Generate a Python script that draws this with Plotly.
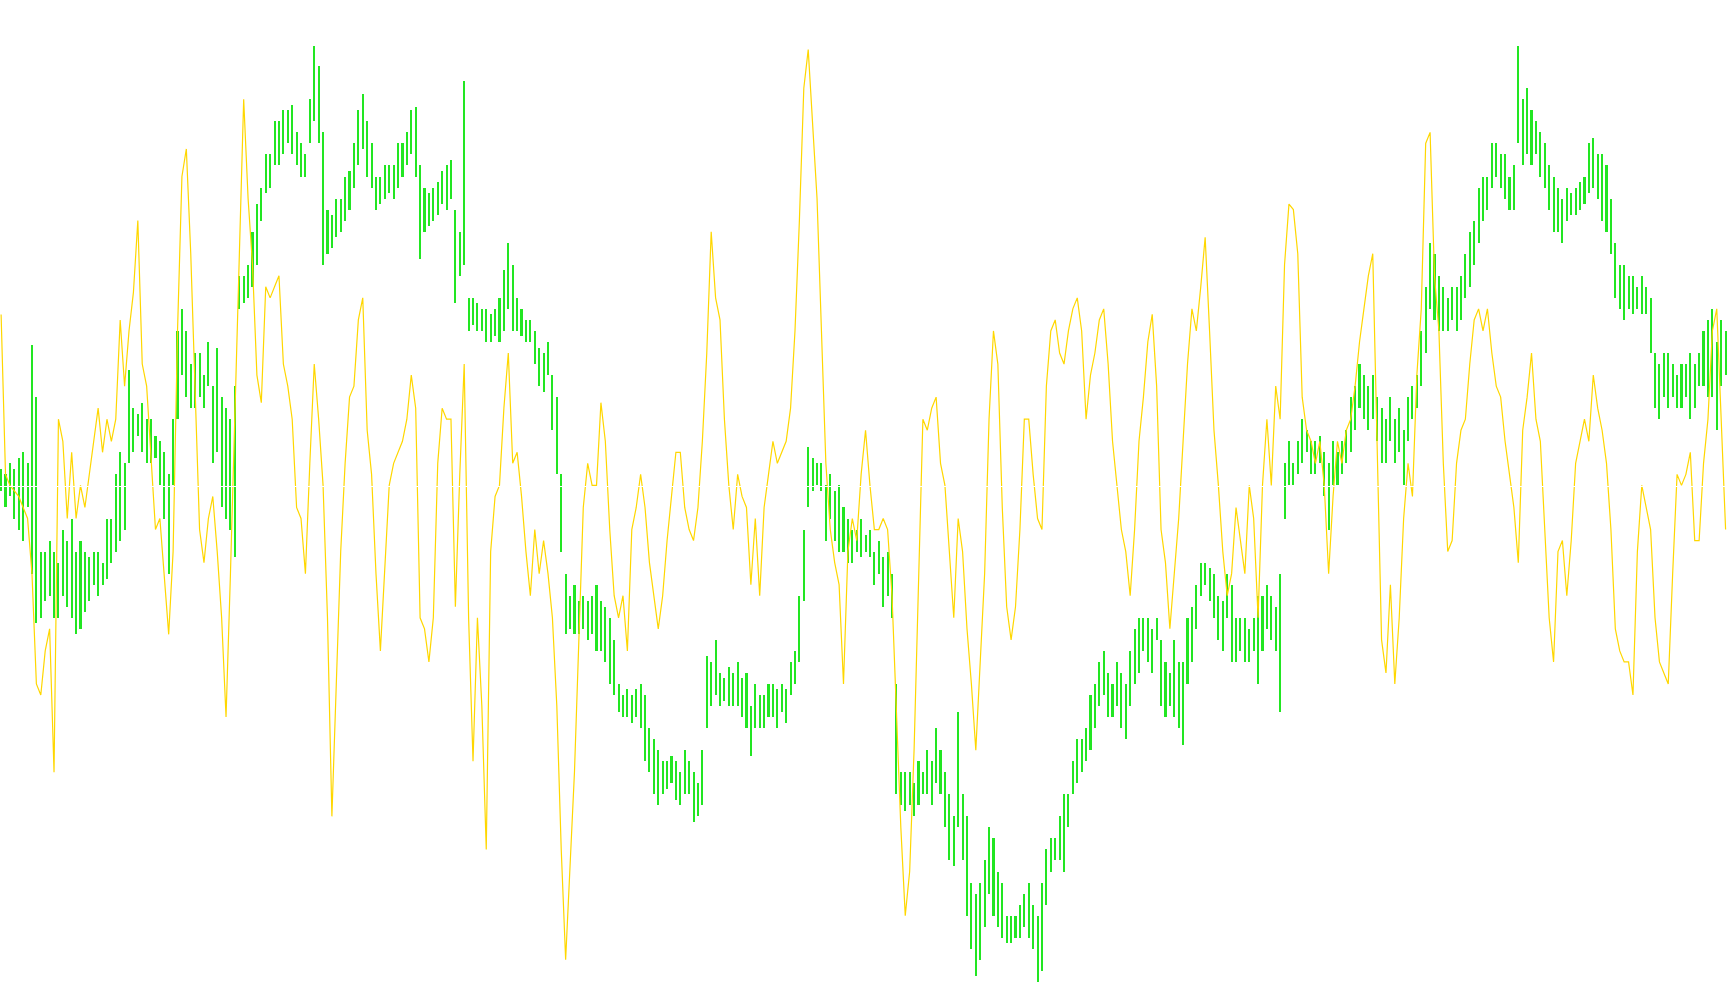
import numpy as np
import plotly.graph_objects as go

# bar index positions (one bar every 4 chart units)
step = 4

# green range bars: upper and lower edge readings (chart units, top = small)
green_top = [
    425,430,420,425,415,410,420,313,360,500,
    500,490,500,510,480,490,470,500,490,500,
    505,500,500,510,470,470,430,410,420,335,
    370,375,365,380,380,395,400,410,430,380,
    300,280,300,330,320,320,340,310,350,315,
    360,370,380,350,250,250,240,210,185,170,
    140,140,110,110,100,100,95,120,130,140,
    90,42,60,120,190,195,180,180,160,155,
    130,100,85,110,130,160,160,150,150,150,
    130,130,120,100,97,150,170,175,170,165,
    155,150,145,190,210,73,270,270,275,280,
    280,285,280,270,245,220,240,270,280,290,
    290,300,315,320,310,340,360,430,520,540,
    530,545,540,545,540,530,545,550,560,580,
    620,630,625,630,625,620,630,660,670,680,
    690,690,685,690,700,680,690,700,710,680,
    595,600,580,610,615,605,610,600,615,610,
    640,620,630,630,620,620,625,620,625,600,
    590,540,480,405,415,420,420,440,430,445,
    440,460,470,480,480,470,485,480,500,490,
    505,500,520,620,700,700,700,710,690,700,
    680,690,660,680,700,720,740,645,720,740,
    800,810,800,780,750,760,790,800,830,830,
    830,820,810,800,820,830,800,770,760,760,
    740,720,720,690,670,670,660,630,620,600,
    590,610,620,600,610,620,590,570,560,560,
    560,570,560,580,600,610,580,600,600,560,
    550,530,510,510,515,520,540,545,520,530,
    560,560,560,570,560,540,540,530,540,550,
    520,420,400,420,400,380,390,400,400,395,
    410,420,400,410,400,390,360,350,330,340,
    350,340,360,370,380,360,380,370,390,360,
    350,340,300,260,220,230,250,260,270,260,
    260,250,230,210,200,170,160,160,130,130,
    140,140,160,150,42,90,80,100,110,120,
    130,150,160,170,180,170,175,170,165,160,
    130,125,140,140,150,180,220,240,240,250,
    250,260,250,260,270,320,330,320,320,330,
    340,330,330,320,330,320,300,290,280,310,
    290,300,
]
green_bottom = [
    445,460,450,470,480,490,460,520,565,560,
    545,540,560,560,540,550,560,575,570,555,
    545,530,540,530,525,510,500,490,480,420,
    410,395,410,420,420,415,440,470,520,440,
    380,340,360,370,370,360,370,350,420,410,
    460,470,480,505,280,275,270,260,240,200,
    175,170,150,150,140,130,140,150,160,160,
    130,110,130,240,230,225,215,210,200,190,
    170,150,135,160,170,190,185,180,175,180,
    170,160,150,140,160,235,210,205,200,195,
    185,190,180,275,250,240,300,295,300,300,
    310,310,305,310,300,280,300,300,305,310,
    310,330,350,355,340,390,430,500,575,570,
    575,575,570,580,575,590,590,600,620,630,
    645,650,650,655,650,660,690,700,720,730,
    720,715,710,725,730,720,720,745,740,730,
    660,640,630,640,635,640,640,640,650,660,
    685,660,660,660,650,650,660,645,655,630,
    620,600,545,460,445,440,445,490,470,490,
    500,500,510,510,500,505,500,505,530,520,
    550,540,560,720,730,735,730,740,730,720,
    720,730,710,720,750,780,785,750,780,830,
    860,885,870,840,810,830,840,850,855,855,
    850,850,840,850,860,890,880,820,790,780,
    780,790,750,720,710,700,690,680,660,640,
    630,650,650,640,660,670,640,620,610,590,
    600,610,580,640,650,640,650,660,675,620,
    600,570,540,530,545,560,580,590,560,600,
    600,590,600,600,590,620,590,570,580,590,
    645,470,440,440,430,420,410,430,430,420,
    450,480,440,440,430,420,410,390,370,380,
    390,380,400,420,420,400,420,410,440,400,
    380,370,350,320,280,290,300,300,300,290,
    300,290,270,260,240,220,200,190,170,160,
    170,180,190,190,130,150,140,150,140,160,
    170,190,210,210,220,200,195,195,190,185,
    175,170,180,200,210,230,270,280,290,280,
    285,280,285,285,320,370,380,360,370,360,
    370,370,360,380,370,350,350,360,360,390,
    350,340,
]

# yellow line readings (chart units, top = small)
yellow = [
    285,430,440,445,450,460,470,520,620,630,
    590,570,700,380,400,470,410,470,440,460,
    430,400,370,410,380,400,380,290,350,300,
    265,200,330,350,420,480,470,520,575,500,
    300,160,135,230,350,480,510,470,450,500,
    560,650,520,380,250,90,180,240,340,365,
    260,270,260,250,330,350,380,460,470,520,
    420,330,380,440,560,740,620,500,420,360,
    350,290,270,390,430,520,590,520,440,420,
    410,400,380,340,370,560,570,600,560,420,
    370,380,380,550,430,330,560,690,560,640,
    770,500,450,440,370,320,420,410,450,500,
    540,480,520,490,520,560,640,770,870,780,
    700,580,460,420,440,440,365,400,480,540,
    560,540,590,480,460,430,460,510,540,570,
    540,490,450,410,410,460,480,490,460,400,
    320,210,270,290,380,440,480,430,450,460,
    530,470,540,460,430,400,420,410,400,370,
    300,200,80,45,110,180,300,420,480,510,
    530,620,500,470,490,430,390,440,480,480,
    470,480,540,640,750,830,790,680,520,380,
    390,370,360,420,440,500,560,470,500,570,
    620,680,600,520,380,300,330,460,550,580,
    550,480,380,380,430,470,480,350,300,290,
    320,330,300,280,270,300,380,340,320,290,
    280,330,400,440,480,500,540,480,400,360,
    310,285,350,480,510,570,520,470,400,330,
    280,300,260,215,300,390,440,500,540,520,
    460,490,520,440,470,560,440,380,440,350,
    380,240,185,190,230,360,390,400,420,400,
    440,520,450,400,420,390,380,350,310,280,
    250,230,420,580,610,530,620,560,470,420,
    450,340,280,130,120,250,300,420,500,490,
    420,390,380,330,290,280,300,280,320,350,
    360,400,430,460,510,390,360,320,380,400,
    480,560,600,500,490,540,490,420,400,380,
    400,340,370,390,420,480,570,590,600,600,
    630,500,440,460,480,560,600,610,620,520,
    430,440,430,410,490,490,420,380,300,280,
    380,480,
]

level_line = 441

n = len(yellow)
x = np.arange(n) * step
gt = np.array(green_top, dtype=float)
gb = np.array(green_bottom, dtype=float)

fig = go.Figure()
fig.add_trace(go.Scatter(
    x=x, y=yellow, mode="lines",
    line=dict(color="#FFD700", width=1.2),
    hoverinfo="skip", showlegend=False,
))
fig.add_trace(go.Bar(
    x=x, base=gt, y=gb - gt, width=1.9,
    marker=dict(color="#22E622", line=dict(width=0)),
    hoverinfo="skip", showlegend=False,
))
fig.add_shape(type="line", xref="paper", x0=0, x1=1, yref="y",
              y0=level_line, y1=level_line,
              line=dict(color="white", width=1), layer="above")

fig.update_layout(
    width=1730, height=1005,
    margin=dict(l=0, r=0, t=0, b=0),
    paper_bgcolor="white", plot_bgcolor="white",
    bargap=0,
    xaxis=dict(range=[-1, 1568], visible=False, fixedrange=True),
    yaxis=dict(range=[911, 0], visible=False, fixedrange=True),
)

fig.write_html("out.html", config={"displayModeBar": False})
with open("out.html", "r", encoding="utf-8") as f:
    html = f.read()
html = html.replace("<head>", "<head><style>html,body{margin:0;padding:0;}</style>", 1)
with open("out.html", "w", encoding="utf-8") as f:
    f.write(html)
